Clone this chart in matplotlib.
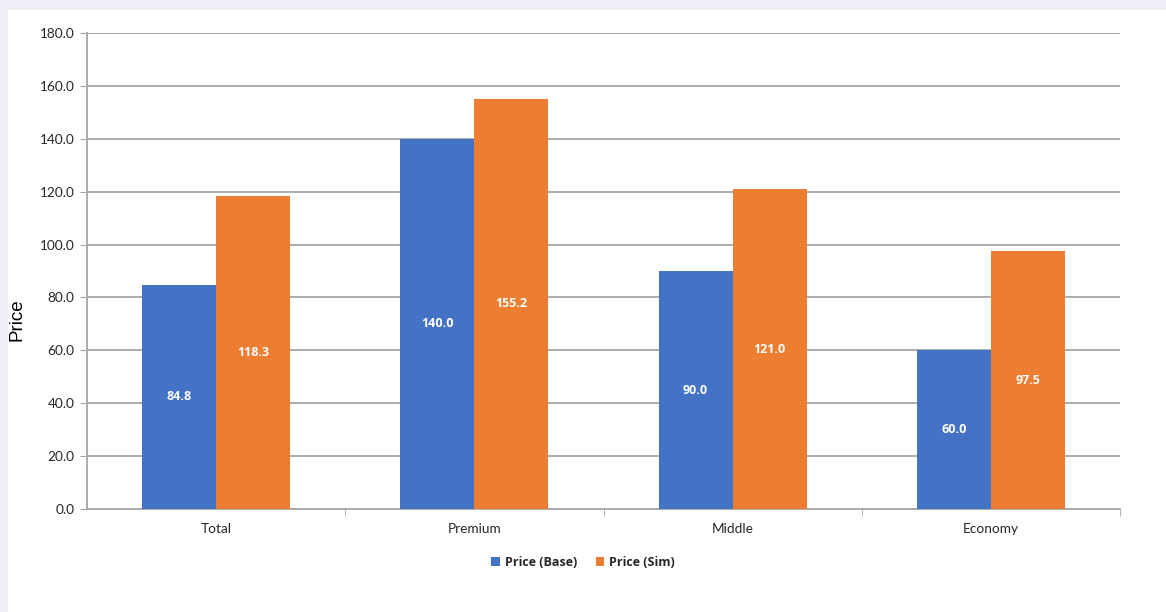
import numpy as np
import matplotlib.pyplot as plt
from matplotlib.patches import Rectangle

segments = ['Total', 'Premium', 'Middle', 'Economy']
price_base = [84.8, 140.0, 90.0, 60.0]
price_sim = [118.3, 155.2, 121.0, 97.5]
series_names = ['Price (Base)', 'Price (Sim)']

blue = '#4472C4'
orange = '#ED7D31'
grid_col = '#A6A6A6'
text_col = '#262626'

plt.rcParams['font.family'] = ['Lato', 'DejaVu Sans']

fig = plt.figure(figsize=(11.66, 6.12), dpi=100, facecolor='#F1EEF8')
# white panel sitting on the lavender page
fig.add_artist(Rectangle((8 / 1166, 0), 1 - 8 / 1166, 1 - 10 / 612,
                         transform=fig.transFigure, facecolor='white',
                         edgecolor='none', zorder=-10))

ax = fig.add_axes([87 / 1166, 1 - 509 / 612, (1120 - 87) / 1166, (509 - 33) / 612])
ax.set_facecolor('none')

x = np.arange(len(segments))
w = 0.287
b1 = ax.bar(x - w / 2, price_base, w, color=blue, zorder=3)
b2 = ax.bar(x + w / 2, price_sim, w, color=orange, zorder=3)

# value labels sit halfway up each bar
for bars, vals in ((b1, price_base), (b2, price_sim)):
    for r, v in zip(bars, vals):
        ax.text(r.get_x() + r.get_width() / 2, v / 2, f'{v:.1f}',
                ha='center', va='center', color='white', fontsize=9,
                family='Open Sans', fontweight='bold', zorder=4)

ax.set_xlim(-0.5, len(segments) - 0.5)
ax.set_ylim(0, 180)
ax.set_yticks(np.arange(0, 181, 20))
ax.set_yticklabels([f'{t:.1f}' for t in np.arange(0, 181, 20)], fontsize=9.8)
ax.yaxis.grid(True, color=grid_col, linewidth=1.3, zorder=0)
ax.tick_params(axis='y', length=5, color=grid_col, pad=4, labelcolor=text_col)

ax.set_xticks(x)
ax.set_xticklabels(segments, fontsize=9.8)
ax.set_xticks(np.arange(0.5, len(segments), 1), minor=True)
ax.tick_params(axis='x', which='major', length=0, pad=10, labelcolor=text_col)
ax.tick_params(axis='x', which='minor', length=5, color=grid_col)

for s in ['top', 'right']:
    ax.spines[s].set_visible(False)
ax.spines['left'].set_color(grid_col)
ax.spines['bottom'].set_color(grid_col)
ax.spines['left'].set_linewidth(1.3)
ax.spines['bottom'].set_linewidth(1.3)

fig.text(17 / 1166, 1 - 320 / 612, 'Price', rotation=90, ha='center',
         va='center', fontsize=13.5, family='Liberation Sans', color='black')

fig.legend([b1, b2], series_names, loc='center', ncol=2,
           bbox_to_anchor=(583 / 1166, 1 - 562 / 612), frameon=False,
           prop={'size': 9, 'weight': 'bold', 'family': 'Open Sans'},
           handlelength=0.7, handleheight=0.7, handletextpad=0.4,
           columnspacing=1.5, labelcolor=text_col)

fig.savefig('out.png', dpi=100, facecolor=fig.get_facecolor())
